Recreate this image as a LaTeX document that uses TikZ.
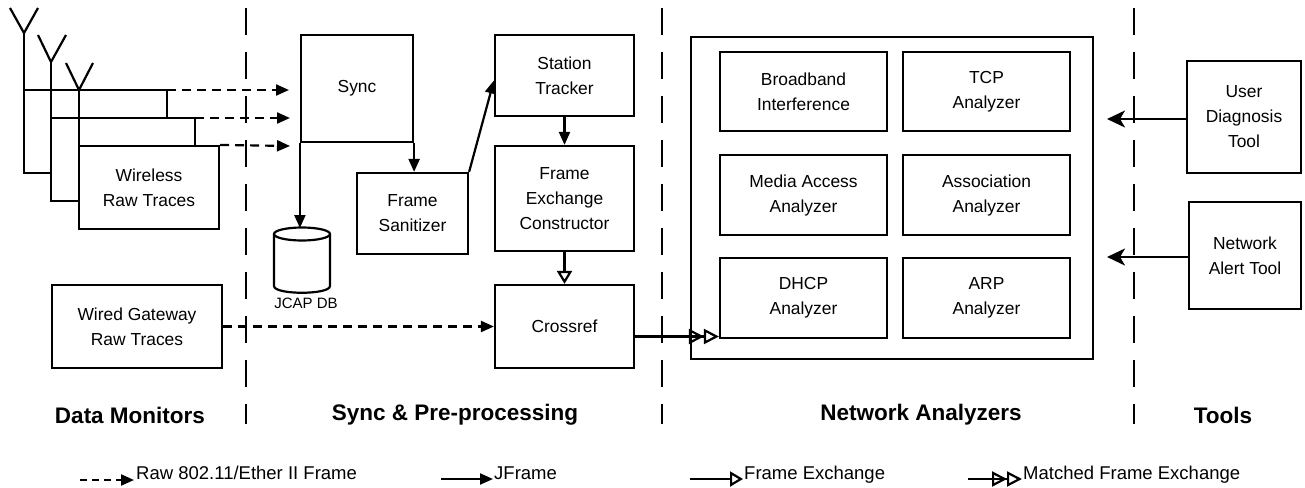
\documentclass[tikz,border=0pt]{standalone}
\usepackage{fontspec}
\setmainfont{Liberation Sans}
\usetikzlibrary{arrows.meta}
\begin{document}
\begin{tikzpicture}[x=1pt,y=-1pt,
  box/.style={draw, line width=2.2pt, align=center, inner sep=0pt,
    font=\fontsize{17.4}{25}\selectfont},
  sep/.style={line width=1.3pt, dash pattern=on 27pt off 17pt},
  wire/.style={line width=2.2pt},
  rawarr/.style={line width=2.2pt, dash pattern=on 9pt off 6pt, -{Triangle[length=13pt,width=11pt]}},
  jarr/.style={line width=2.2pt, -{Triangle[length=13pt,width=11pt]}},
  fxarr/.style={line width=2.2pt, -{Triangle[open,length=13pt,width=15pt]}},
  mfxarr/.style={line width=2.2pt, -{Triangle[open,length=15pt,width=15pt] Triangle[open,length=15pt,width=15pt]}},
  toolarr/.style={line width=2.2pt, -{Stealth[length=18pt,width=17pt,inset=5pt]}},
  sect/.style={font=\fontsize{22.5}{26}\selectfont\bfseries},
  leg/.style={font=\fontsize{18.5}{22}\selectfont, anchor=base west, inner sep=0pt}
]
\useasboundingbox (0,0) rectangle (1305,487);

% section separators
\draw[sep] (246,8) -- (246,424);
\draw[sep] (662,8) -- (662,424);
\draw[sep] (1134,8) -- (1134,424);

% antennas and stacked wireless traces
\draw[wire] (10,8) -- (24,33) -- (38,8);
\draw[wire] (38,35) -- (51,62) -- (66,35);
\draw[wire] (66,63) -- (79,90) -- (93,63);
\draw[wire] (24,33) -- (24,173) -- (51,173);
\draw[wire] (24,90) -- (167,90) -- (167,118);
\draw[wire] (51,62) -- (51,201) -- (79,201);
\draw[wire] (51,118) -- (195,118) -- (195,146);
\draw[wire] (79,90) -- (79,146);
\node[box, minimum width=140pt, minimum height=83pt] (wl) at (149,187.5) {Wireless\\Raw Traces};
\coordinate (b1) at (167,90);
\coordinate (b2) at (195,118);
\coordinate (b3) at (wl.north east);

% sync & preprocessing
\node[box, minimum width=112pt, minimum height=107pt] (sync) at (357,88.5) {Sync};
\node[box, minimum width=111pt, minimum height=81pt] (san) at (412.5,213.5) {Frame\\Sanitizer};
\node[box, minimum width=139pt, minimum height=81pt] (st) at (564.5,75.5) {Station\\Tracker};
\node[box, minimum width=139pt, minimum height=105pt] (fec) at (564.5,198.5) {Frame\\Exchange\\Constructor};
\node[box, minimum width=139pt, minimum height=83pt] (cr) at (564.5,326.5) {Crossref};
\node[box, minimum width=170pt, minimum height=83pt] (wg) at (137,326.5) {Wired Gateway\\Raw Traces};

% database cylinder
\coordinate (db) at (302,228);
\draw[wire] (274,234) -- (274,286) .. controls (274,295) and (330,295) .. (330,286) -- (330,234);
\draw[wire] (302,234) ellipse [x radius=28, y radius=6.5];
\node[font=\fontsize{15}{18}\selectfont, inner sep=0pt] (dbl) at (306,303) {JCAP DB};

% raw frame arrows
\coordinate (t1) at (289,90);
\coordinate (t2) at (290,118);
\coordinate (t3) at (290,146);
\draw[rawarr] (b1) -- (t1);
\draw[rawarr] (b2) -- (t2);
\draw[rawarr] (b3) -- (t3);
\draw[rawarr] (wg.east) -- (cr.west);

% jframe arrows
\draw[jarr] (sync.south west) -- (sync.south west |- db);
\draw[jarr] (sync.south east) -- (sync.south east |- san.north);
\draw[jarr] (san.north east) -- ([yshift=-5pt]st.west);
\draw[jarr] (st.south) -- (fec.north);
\draw[fxarr] (fec.south) -- (cr.north);

% network analyzers
\node[draw, line width=2.2pt, minimum width=402pt, minimum height=322pt] (big) at (892,198) {};
\node[box, minimum width=167pt, minimum height=79pt] (bb) at (803.5,91.5) {Broadband\\Interference};
\node[box, minimum width=167pt, minimum height=79pt] (tcp) at (986.5,91.5) {TCP\\Analyzer};
\node[box, minimum width=167pt, minimum height=80pt] (ma) at (803.5,195) {Media Access\\Analyzer};
\node[box, minimum width=167pt, minimum height=80pt] (as) at (986.5,195) {Association\\Analyzer};
\node[box, minimum width=167pt, minimum height=80pt] (dhcp) at (803.5,298) {DHCP\\Analyzer};
\node[box, minimum width=167pt, minimum height=80pt] (arp) at (986.5,298) {ARP\\Analyzer};
\draw[mfxarr] ([yshift=-10pt]cr.east) -- ([yshift=-10pt]cr.east -| dhcp.west);

% tools
\node[box, minimum width=114pt, minimum height=112pt] (udt) at (1244,117) {User\\Diagnosis\\Tool};
\node[box, minimum width=112pt, minimum height=107pt] (nat) at (1245,255.5) {Network\\Alert Tool};
\coordinate (u1) at (1107,119);
\coordinate (n1) at (1107,257);
\draw[toolarr] (udt.west |- u1) -- (u1);
\draw[toolarr] (nat.west |- n1) -- (n1);

% section labels
\node[sect] (l1) at (130,415) {Data Monitors};
\node[sect] (l2) at (455,415) {Sync \& Pre-processing};
\node[sect] (l3) at (921,415) {Network Analyzers};
\node[sect] (l4) at (1223,415) {Tools};

% legend
\coordinate (a1) at (80,480); \coordinate (a2) at (134,480);
\draw[line width=2.2pt, dash pattern=on 7pt off 5pt, -{Triangle[length=13pt,width=11pt]}] (a1) -- (a2);
\node[leg] (g1) at (136,479) {Raw 802.11/Ether II Frame};
\coordinate (c1) at (441,479); \coordinate (c2) at (493,479);
\draw[jarr] (c1) -- (c2);
\node[leg] (g2) at (494,479) {JFrame};
\coordinate (d1) at (690,479); \coordinate (d2) at (743,479);
\draw[fxarr] (d1) -- (d2);
\node[leg] (g3) at (744,479) {Frame Exchange};
\coordinate (e1) at (968,479); \coordinate (e2) at (1022,479);
\draw[mfxarr] (e1) -- (e2);
\node[leg] (g4) at (1023,479) {Matched Frame Exchange};
\end{tikzpicture}
\end{document}
